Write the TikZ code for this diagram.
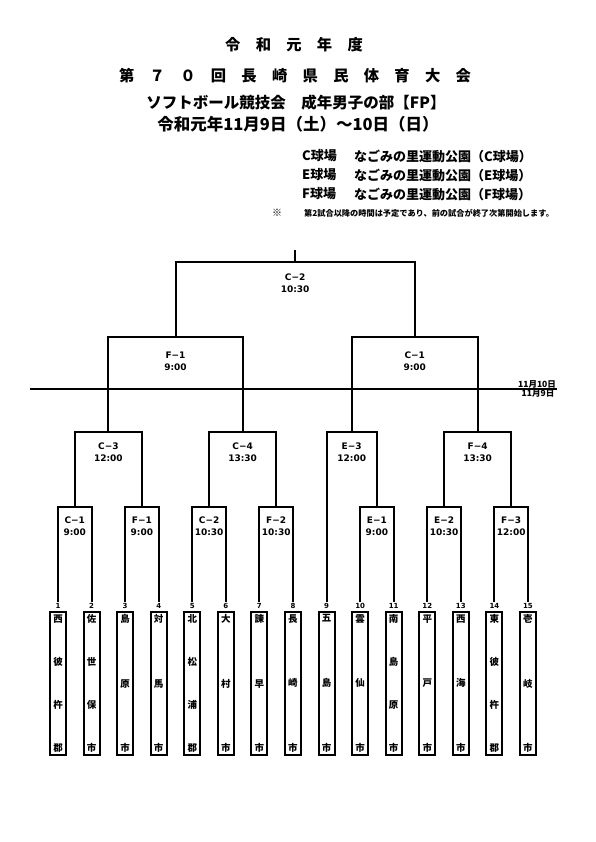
\documentclass[tikz,border=0pt]{standalone}
\usepackage{fontspec}
\usetikzlibrary{positioning}
\newfontfamily\jp{Noto Sans CJK JP}[BoldFont={Noto Sans CJK JP Bold}]
\newfontfamily\jph{Noto Sans CJK JP Black}
\newfontfamily\lat{DejaVu Sans}
\newcommand\vf{\par\vfill}
\newcommand\tname[1]{\parbox[c][137pt][s]{12pt}{\centering #1}}

\begin{document}
\begin{tikzpicture}[
    x=1pt, y=-1pt,
    node distance=17.57pt,
    ttl/.style={font=\jph\fontsize{15.3}{15.3}\selectfont, inner sep=0pt},
    sub/.style={font=\jph\fontsize{15.5}{15.5}\selectfont, inner sep=0pt},
    venue/.style={font=\jph\fontsize{13}{13}\selectfont, inner sep=0pt, anchor=west},
    note/.style={font=\jph\fontsize{8.2}{8.2}\selectfont, inner sep=0pt, anchor=west},
    bracket/.style={line width=2pt},
    game/.style={font=\lat\bfseries\fontsize{9}{12}\selectfont, align=center, inner sep=0pt},
    team/.style={draw, line width=2pt, outer sep=0pt, minimum width=16pt, minimum height=143pt,
        inner sep=0pt, font=\jph\fontsize{9.5}{9.5}\selectfont},
    num/.style={font=\lat\bfseries\fontsize{7}{7}\selectfont, inner sep=1.5pt},
    day/.style={font=\jph\fontsize{8.5}{8.5}\selectfont, inner sep=0.5pt}
]
\fill[white] (0,0) rectangle (595,842);
\useasboundingbox (0,0) rectangle (595,842);

% titles
\node[ttl] (title1) at (294,45) {令　和　元　年　度};
\node[ttl] (title2) at (295,76) {第　７　０　回　長　崎　県　民　体　育　大　会};
\node[sub] (title3) at (296,103) {ソフトボール競技会　成年男子の部【FP】};
\node[sub, font=\jph\fontsize{16.5}{16.5}\selectfont] (title4) at (298,124) {令和元年11月9日（土）～10日（日）};

% venues
\node[venue] (vc) at (302,156) {C球場};
\node[venue] (vcp) at (354,156) {なごみの里運動公園（C球場）};
\node[venue] (ve) at (302,175) {E球場};
\node[venue] (vep) at (354,175) {なごみの里運動公園（E球場）};
\node[venue] (vf) at (302,194) {F球場};
\node[venue] (vfp) at (354,194) {なごみの里運動公園（F球場）};
\node[note] (remark) at (272,213) {{\fontsize{10}{10}\selectfont ※}\hspace{22pt}第2試合以降の時間は予定であり、前の試合が終了次第開始します。};

% teams
\node[team, anchor=north] (t1) at (58,612) {\tname{西\vf 彼\vf 杵\vf 郡}};
\node[team, right=of t1] (t2) {\tname{佐\vf 世\vf 保\vf 市}};
\node[team, right=of t2] (t3) {\tname{島\vf 原\vf 市}};
\node[team, right=of t3] (t4) {\tname{対\vf 馬\vf 市}};
\node[team, right=of t4] (t5) {\tname{北\vf 松\vf 浦\vf 郡}};
\node[team, right=of t5] (t6) {\tname{大\vf 村\vf 市}};
\node[team, right=of t6] (t7) {\tname{諫\vf 早\vf 市}};
\node[team, right=of t7] (t8) {\tname{長\vf 崎\vf 市}};
\node[team, right=of t8] (t9) {\tname{五\vf 島\vf 市}};
\node[team, right=of t9] (t10) {\tname{雲\vf 仙\vf 市}};
\node[team, right=of t10] (t11) {\tname{南\vf 島\vf 原\vf 市}};
\node[team, right=of t11] (t12) {\tname{平\vf 戸\vf 市}};
\node[team, right=of t12] (t13) {\tname{西\vf 海\vf 市}};
\node[team, right=of t13] (t14) {\tname{東\vf 彼\vf 杵\vf 郡}};
\node[team, right=of t14] (t15) {\tname{壱\vf 岐\vf 市}};

\node[num, above=1.5pt of t1] (n1) {1};
\node[num, above=1.5pt of t2] (n2) {2};
\node[num, above=1.5pt of t3] (n3) {3};
\node[num, above=1.5pt of t4] (n4) {4};
\node[num, above=1.5pt of t5] (n5) {5};
\node[num, above=1.5pt of t6] (n6) {6};
\node[num, above=1.5pt of t7] (n7) {7};
\node[num, above=1.5pt of t8] (n8) {8};
\node[num, above=1.5pt of t9] (n9) {9};
\node[num, above=1.5pt of t10] (n10) {10};
\node[num, above=1.5pt of t11] (n11) {11};
\node[num, above=1.5pt of t12] (n12) {12};
\node[num, above=1.5pt of t13] (n13) {13};
\node[num, above=1.5pt of t14] (n14) {14};
\node[num, above=1.5pt of t15] (n15) {15};

% match tops
\coordinate (r1c1) at (74.8,507);
\coordinate (r1f1) at (141.9,507);
\coordinate (r1c2) at (209.1,507);
\coordinate (r1f2) at (276.2,507);
\coordinate (r1e1) at (376.9,507);
\coordinate (r1e2) at (444.1,507);
\coordinate (r1f3) at (511.2,507);
\coordinate (r2c3) at (108.35,432);
\coordinate (r2c4) at (242.65,432);
\coordinate (r2e3) at (351.7,432);
\coordinate (r2f4) at (477.65,432);
\coordinate (r3f1) at (175.5,337);
\coordinate (r3c1) at (414.7,337);
\coordinate (fin) at (295.1,262);
\coordinate (champ) at (295.1,250);

% first round
\draw[bracket] (n1.north) |- (r1c1) -| (n2.north);
\draw[bracket] (n3.north) |- (r1f1) -| (n4.north);
\draw[bracket] (n5.north) |- (r1c2) -| (n6.north);
\draw[bracket] (n7.north) |- (r1f2) -| (n8.north);
\draw[bracket] (n10.north) |- (r1e1) -| (n11.north);
\draw[bracket] (n12.north) |- (r1e2) -| (n13.north);
\draw[bracket] (n14.north) |- (r1f3) -| (n15.north);
% second round
\draw[bracket] (r1c1) |- (r2c3) -| (r1f1);
\draw[bracket] (r1c2) |- (r2c4) -| (r1f2);
\draw[bracket] (n9.north) |- (r2e3) -| (r1e1);
\draw[bracket] (r1e2) |- (r2f4) -| (r1f3);
% semi and final
\draw[bracket] (r2c3) |- (r3f1) -| (r2c4);
\draw[bracket] (r2e3) |- (r3c1) -| (r2f4);
\draw[bracket] (r3f1) |- (fin) -| (r3c1);
\draw[bracket] (fin) -- (champ);

% game labels
\node[game, below=9.7pt of r1c1] (g1) {C−1\\9:00};
\node[game, below=9.7pt of r1f1] (g2) {F−1\\9:00};
\node[game, below=9.7pt of r1c2] (g3) {C−2\\10:30};
\node[game, below=9.7pt of r1f2] (g4) {F−2\\10:30};
\node[game, below=9.7pt of r1e1] (g5) {E−1\\9:00};
\node[game, below=9.7pt of r1e2] (g6) {E−2\\10:30};
\node[game, below=9.7pt of r1f3] (g7) {F−3\\12:00};
\node[game, below=10.7pt of r2c3] (g8) {C−3\\12:00};
\node[game, below=10.7pt of r2c4] (g9) {C−4\\13:30};
\node[game, below=10.7pt of r2e3] (g10) {E−3\\12:00};
\node[game, below=10.7pt of r2f4] (g11) {F−4\\13:30};
\node[game, below=14.7pt of r3f1] (g12) {F−1\\9:00};
\node[game, below=14.7pt of r3c1] (g13) {C−1\\9:00};
\node[game, below=11.7pt of fin] (g14) {C−2\\10:30};

% day line
\coordinate (dayL) at (30,389);
\coordinate (dayR) at (557,389);
\draw[line width=1.2pt] (dayL) -- (dayR);
\node[day, anchor=south] (d10) at (537,389) {11月10日};
\node[day, anchor=north] (d9) at (538,389) {11月9日};
\end{tikzpicture}
\end{document}
